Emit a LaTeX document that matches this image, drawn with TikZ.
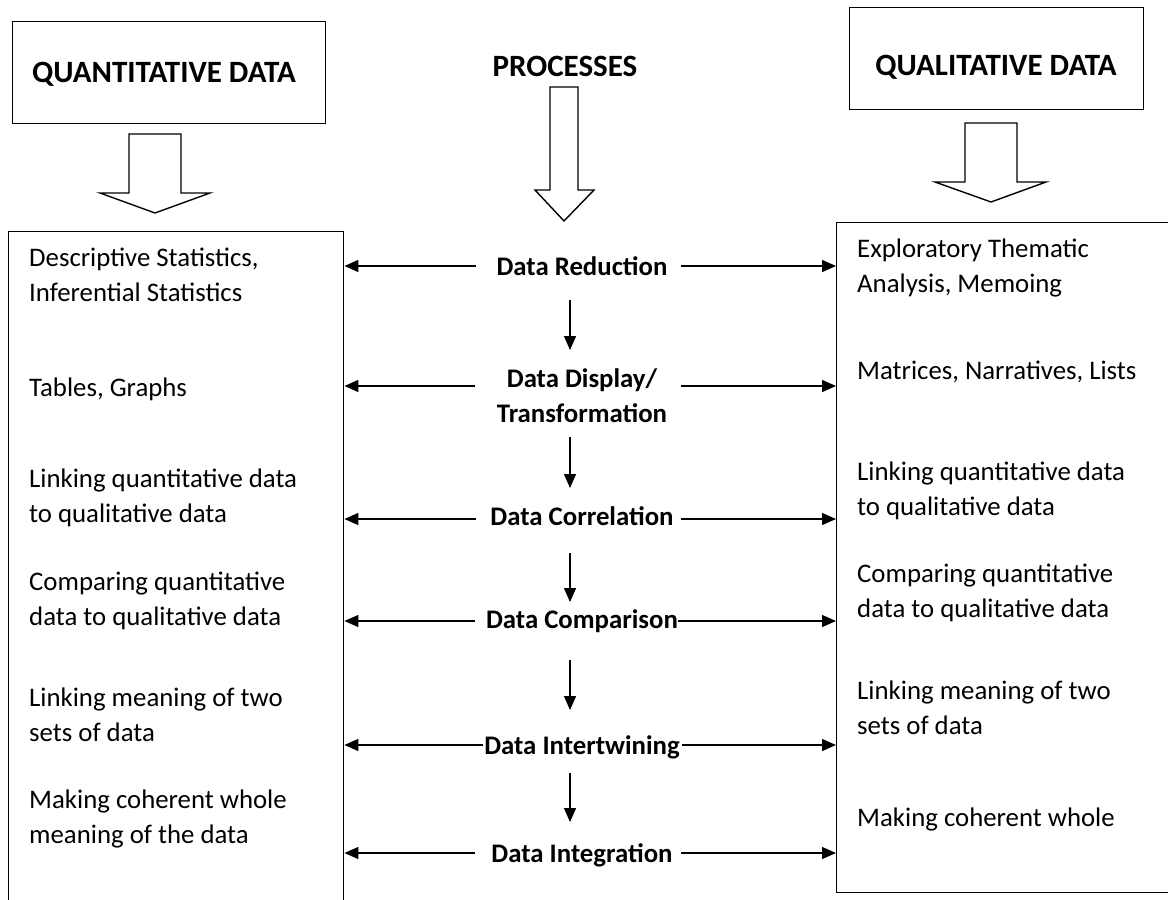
\documentclass[tikz,border=0pt]{standalone}
\usepackage{fontspec}
\setmainfont{Carlito}
\usetikzlibrary{arrows.meta}
\begin{document}
\begin{tikzpicture}[x=1pt,y=-1pt,
  box/.style={draw, line width=1.4pt, inner sep=0pt},
  arr/.style={line width=1.4pt, -{Triangle[length=14pt,width=12pt]}},
  hollow/.style={draw, line width=1.4pt, fill=white, line join=miter},
  body/.style={font=\fontsize{26.8}{34.5}\selectfont, anchor=base west, inner sep=0pt, align=left},
  proc/.style={font=\fontsize{26.8}{35}\selectfont\bfseries, anchor=base, inner sep=0pt, align=center},
  title/.style={font=\fontsize{31}{36}\selectfont\bfseries, inner sep=0pt, anchor=base}]
\useasboundingbox (0,0) rectangle (1168,900);
\clip (0,0) rectangle (1168,900);
\fill[white] (0,0) rectangle (1168,900);

% top boxes and titles
\node[box, minimum width=313pt, minimum height=102pt, anchor=north west] (qntop) at (12,21) {};
\node[title] (qntitle) at (164,82) {QUANTITATIVE DATA};
\node[box, minimum width=294pt, minimum height=102pt, anchor=north west] (qltop) at (849,7) {};
\node[title] (qltitle) at (996,75) {QUALITATIVE DATA};
\node[title] (proctitle) at (565,76) {PROCESSES};

% hollow arrows
\draw[hollow] (129,134) -- (181,134) -- (181,193) -- (210,193) -- (155,213) -- (100,193) -- (129,193) -- cycle;
\draw[hollow] (550,87) -- (578,87) -- (578,190) -- (594,190) -- (564,221) -- (535,190) -- (550,190) -- cycle;
\draw[hollow] (965,123) -- (1017,123) -- (1017,182) -- (1046,182) -- (991,202) -- (935,182) -- (965,182) -- cycle;

% big boxes
\node[box, minimum width=335pt, minimum height=700pt, anchor=north west] (qnbox) at (8,231) {};
\node[box, minimum width=400pt, minimum height=670pt, anchor=north west] (qlbox) at (836,222) {};

% left texts (y = baseline of the last line)
\node[body] (l1) at (29,301) {Descriptive Statistics,\\Inferential Statistics};
\node[body] (l2) at (29,396) {Tables, Graphs};
\node[body] (l3) at (29,522) {Linking quantitative data\\to qualitative data};
\node[body] (l4) at (29,625) {Comparing quantitative\\data to qualitative data};
\node[body] (l5) at (29,741) {Linking meaning of two\\sets of data};
\node[body] (l6) at (29,843) {Making coherent whole\\meaning of the data};

% right texts
\node[body] (r1) at (857,292) {Exploratory Thematic\\Analysis, Memoing};
\node[body] (r2) at (857,379) {Matrices, Narratives, Lists};
\node[body] (r3) at (857,515) {Linking quantitative data\\to qualitative data};
\node[body] (r4) at (857,617) {Comparing quantitative\\data to qualitative data};
\node[body] (r5) at (857,734) {Linking meaning of two\\sets of data};
\node[body] (r6) at (857,826) {Making coherent whole};

% process labels
\node[proc] (p1) at (582,275) {Data Reduction};
\node[proc] (p2) at (582,422) {Data Display/\\Transformation};
\node[proc] (p3) at (582,525) {Data Correlation};
\node[proc] (p4) at (582,628) {Data Comparison};
\node[proc] (p5) at (582,754) {Data Intertwining};
\node[proc] (p6) at (582,862) {Data Integration};

% horizontal connectors
\coordinate (h1l) at (476,266); \coordinate (h1r) at (681,266);
\coordinate (h2l) at (475,386); \coordinate (h2r) at (681,386);
\coordinate (h3l) at (476,519); \coordinate (h3r) at (681,519);
\coordinate (h4l) at (475,621); \coordinate (h4r) at (678,621);
\coordinate (h5l) at (483,745); \coordinate (h5r) at (682,745);
\coordinate (h6l) at (475,853); \coordinate (h6r) at (681,853);
\foreach \i in {1,...,6}{
  \draw[arr] (h\i l) -- (h\i l -| qnbox.east);
  \draw[arr] (h\i r) -- (h\i r -| qlbox.west);
}

% vertical connectors
\coordinate (v1a) at (570,300); \coordinate (v1b) at (570,350);
\coordinate (v2a) at (570,437); \coordinate (v2b) at (570,488);
\coordinate (v3a) at (570,553); \coordinate (v3b) at (570,602);
\coordinate (v4a) at (570,660); \coordinate (v4b) at (570,710);
\coordinate (v5a) at (570,773); \coordinate (v5b) at (570,822);
\foreach \i in {1,...,5}{
  \draw[arr] (v\i a) -- (v\i b);
}
\end{tikzpicture}
\end{document}
